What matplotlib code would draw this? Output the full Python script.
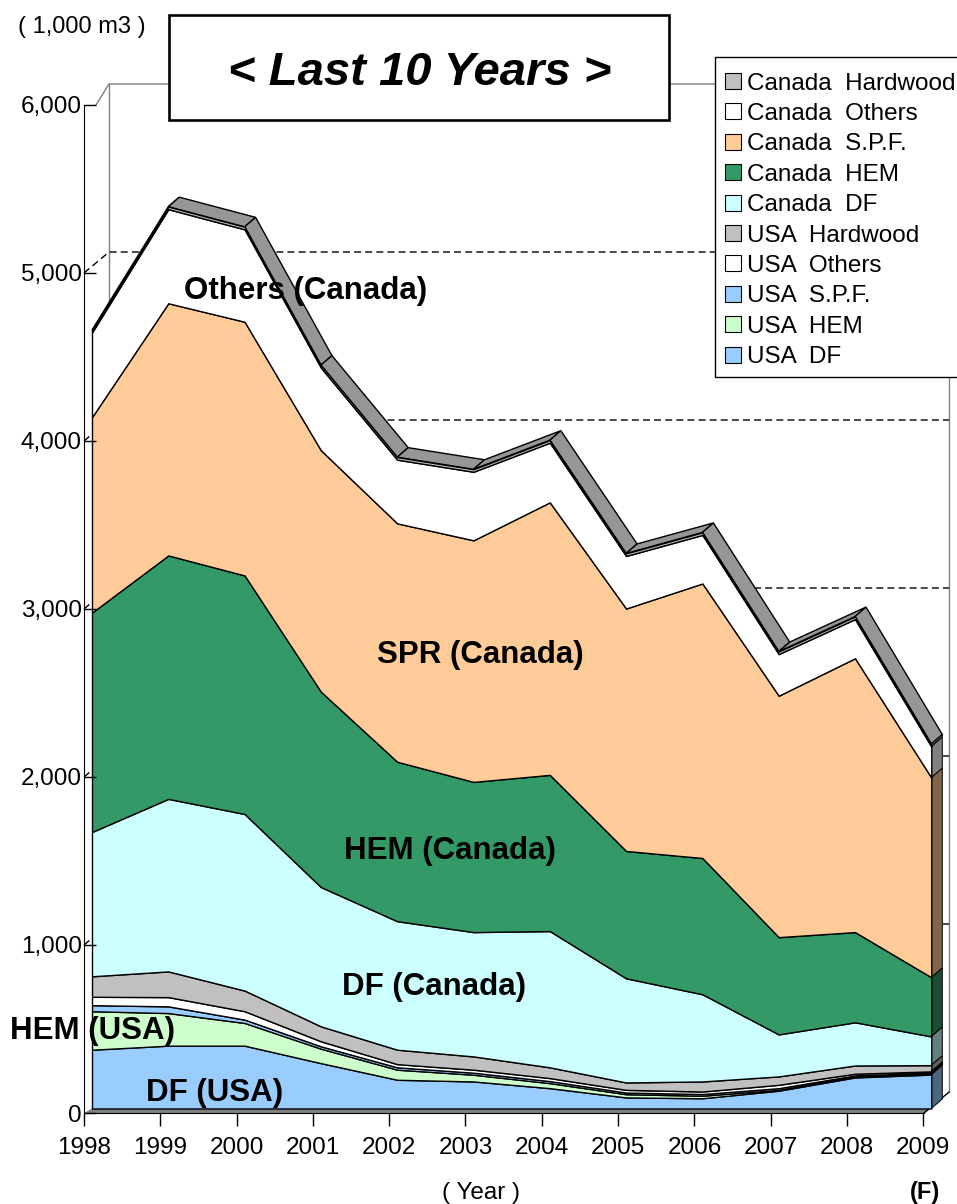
import matplotlib
matplotlib.use("Agg")
import matplotlib.pyplot as plt
import matplotlib.colors as mcolors
from matplotlib.patches import Polygon, Rectangle
import numpy as np

plt.rcParams['font.family'] = ['Liberation Sans', 'DejaVu Sans']

# ---------------- data (1,000 m3) ----------------
years = [1998, 1999, 2000, 2001, 2002, 2003, 2004, 2005, 2006, 2007, 2008, 2009]
usa_df = [350, 374, 374, 270, 171, 161, 121, 66, 61, 106, 185, 202]
usa_hem = [229, 194, 135, 86, 60, 40, 30, 19, 15, 5, 5, 5]
usa_spf = [36, 40, 20, 14, 14, 12, 12, 10, 10, 10, 7, 6]
usa_others = [50, 55, 50, 30, 19, 18, 18, 16, 15, 20, 10, 8]
usa_hardwood = [122, 153, 123, 89, 86, 79, 64, 44, 60, 50, 49, 37]
can_df = [859, 1027, 1051, 829, 765, 740, 811, 620, 519, 250, 257, 171]
can_hem = [1306, 1449, 1420, 1163, 949, 894, 930, 758, 811, 579, 537, 352]
can_spf = [1163, 1501, 1510, 1437, 1419, 1438, 1622, 1443, 1634, 1437, 1630, 1189]
can_others = [504, 560, 550, 492, 379, 408, 355, 313, 289, 248, 233, 185]
can_hardwood = [15, 15, 15, 15, 15, 15, 15, 15, 15, 15, 15, 15]

series_names = ["USA  DF", "USA  HEM", "USA  S.P.F.", "USA  Others", "USA  Hardwood",
                "Canada  DF", "Canada  HEM", "Canada  S.P.F.", "Canada  Others", "Canada  Hardwood"]
series_values = [usa_df, usa_hem, usa_spf, usa_others, usa_hardwood,
                 can_df, can_hem, can_spf, can_others, can_hardwood]
series_colors = ["#99CCFF", "#CCFFCC", "#99CCFF", "#FFFFFF", "#C0C0C0",
                 "#CCFFFF", "#339966", "#FFCC99", "#FFFFFF", "#C0C0C0"]

y_ticks = [0, 1000, 2000, 3000, 4000, 5000, 6000]
y_ticklabels = ["0", "1,000", "2,000", "3,000", "4,000", "5,000", "6,000"]
grid_levels = [1000, 2000, 3000, 4000, 5000]

area_labels = ["Others (Canada)", "SPR (Canada)", "HEM (Canada)", "DF (Canada)", "HEM (USA)", "DF (USA)"]
area_label_pos = [(306, 288), (480, 651), (450, 848), (434, 983), (92, 1028), (215, 1090)]

# ---------------- geometry ----------------
W, H = 957, 1204
fig = plt.figure(figsize=(W / 100, H / 100), dpi=100)

X0PX, Y0PX = 84, 1113          # pixel of (1998, 0)
PPY, PPU = 76.3, 0.168         # pixels per year / per unit
xmin, xmax = 1997.9, 2009.6
ymin, ymax = -60, 6300
ax = fig.add_axes([(X0PX + (xmin - 1998) * PPY) / W,
                   (H - (Y0PX - ymin * PPU)) / H,
                   (xmax - xmin) * PPY / W,
                   (ymax - ymin) * PPU / H])
ax.set_xlim(xmin, xmax)
ax.set_ylim(ymin, ymax)
ax.patch.set_visible(False)

FX, FY = 8 / PPY, 4.5 / PPU       # series front plane offset
DX, DY = 11 / PPY, 9.5 / PPU      # series depth
BX, BY = 25 / PPY, 21 / PPU       # back wall depth
x0 = years[0]
XR = years[-1] + 0.01

wall = '#808080'
# back wall / side wall edges
ax.plot([x0 + 12 / PPY, x0 + BX, XR + BX], [6000, 6000 + BY, 6000 + BY], color=wall, lw=1, zorder=1)
ax.plot([x0 + BX, x0 + BX], [BY, 6000 + BY], color=wall, lw=1, zorder=1)
ax.plot([XR + BX, XR + BX], [BY, 6000 + BY], color=wall, lw=1, zorder=1)
for v in grid_levels:
    ax.plot([x0, x0 + BX, XR + BX], [v, v + BY, v + BY], color='black', lw=1,
            ls=(0, (5, 3)), zorder=1.1)

# floor
ax.add_patch(Polygon([(x0, 0), (XR, 0), (years[-1] + FX, FY), (x0 + FX, FY)],
                     closed=True, fc='#808080', ec='none', zorder=1.2))
ax.plot([XR, XR + BX], [0, BY], color='black', lw=1, zorder=1.2)

# stacked series
x = np.array(years, dtype=float)
cum = np.zeros(len(years))
bands = []
for vals, col in zip(series_values, series_colors):
    lo = cum.copy()
    hi = cum + np.array(vals, dtype=float)
    bands.append((lo, hi, col))
    cum = hi
top = cum

# top ribbon (upper face of the highest series)
for i in range(len(years) - 1):
    ax.add_patch(Polygon([(x[i] + FX, top[i] + FY), (x[i + 1] + FX, top[i + 1] + FY),
                          (x[i + 1] + FX + DX, top[i + 1] + FY + DY), (x[i] + FX + DX, top[i] + FY + DY)],
                         closed=True, fc='#969696', ec='black', lw=1, zorder=1.3))

# side faces at the right end
xe = x[-1] + FX
for lo, hi, col in bands:
    dark = tuple(c * 0.5 for c in mcolors.to_rgb(col))
    ax.add_patch(Polygon([(xe, lo[-1] + FY), (xe, hi[-1] + FY), (xe + DX, hi[-1] + FY + DY),
                          (xe + DX, lo[-1] + FY + DY)],
                         closed=True, fc=dark, ec='black', lw=0.7, zorder=1.3))

# front faces
for lo, hi, col in bands:
    ax.fill_between(x + FX, lo + FY, hi + FY, facecolor=col, edgecolor='black', lw=1, zorder=1.4)

# axes styling
for s in ['top', 'right']:
    ax.spines[s].set_visible(False)
ax.spines['left'].set_position(('data', 1998))
ax.spines['left'].set_bounds(0, 6000)
ax.spines['bottom'].set_position(('data', 0))
ax.spines['bottom'].set_bounds(1998, XR)
ax.set_axisbelow(False)
ax.set_yticks(y_ticks)
ax.set_yticklabels(y_ticklabels)
ax.set_xticks(years)
ax.set_xticklabels([str(y) for y in years])
ax.tick_params(axis='y', direction='in', length=8.6, width=1, pad=1.5, labelsize=17.5)
ax.tick_params(axis='x', direction='out', length=9.4, width=1, pad=8, labelsize=17.5)

# ---------------- overlay (annotations, title, legend) ----------------
ov = fig.add_axes([0, 0, 1, 1])
ov.set_xlim(0, W)
ov.set_ylim(H, 0)
ov.axis('off')

for lab, (px, py) in zip(area_labels, area_label_pos):
    ov.text(px, py, lab, ha='center', va='center_baseline', fontsize=22.5, fontweight='bold')

ov.text(82, 24, "( 1,000 m3 )", ha='center', va='center_baseline', fontsize=17)
ov.add_patch(Rectangle((169, 15), 500, 105, fc='white', ec='black', lw=1.9))
ov.text(420, 68, "< Last 10 Years >", ha='center', va='center_baseline', fontsize=34,
        fontweight='bold', fontstyle='italic')

ov.text(481, 1190, "( Year )", ha='center', va='center_baseline', fontsize=17.5)
ov.text(925, 1190, "(F)", ha='center', va='center_baseline', fontsize=17, fontweight='bold')

# legend
ov.add_patch(Rectangle((715, 57), 270, 320, fc='white', ec='black', lw=1))
for i, (lab, col) in enumerate(zip(series_names[::-1], series_colors[::-1])):
    cy = 81 + 30.4 * i
    ov.add_patch(Rectangle((725, cy - 8), 16, 16, fc=col, ec='black', lw=0.8))
    ov.text(747, cy, lab, ha='left', va='center_baseline', fontsize=17.5)

fig.savefig("out.png", dpi=100)
